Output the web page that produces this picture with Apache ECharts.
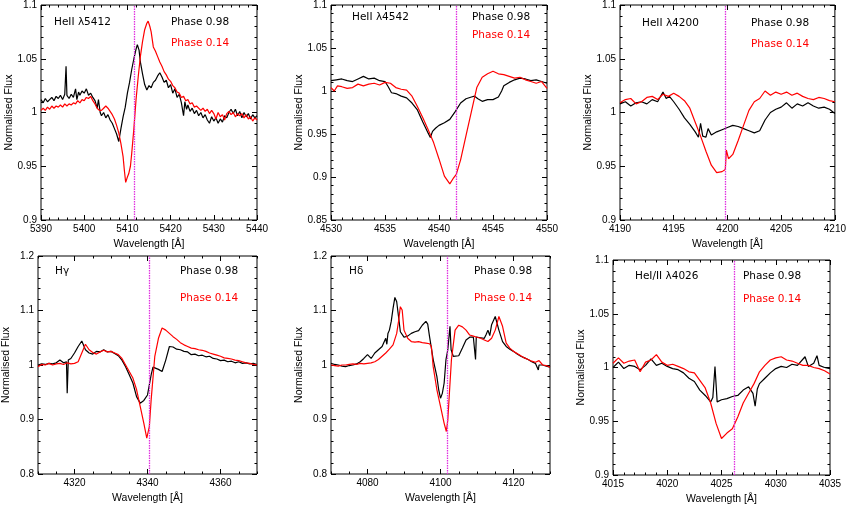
<!DOCTYPE html>
<html>
<head>
<meta charset="utf-8">
<script src="https://cdn.jsdelivr.net/npm/echarts@6/dist/echarts.min.js"></script>
<style>
html, body { margin: 0; background: #fff; }
#chart { width: 849px; height: 506px; }
</style>
</head>
<body>
<div id="chart"></div>
<script>
// rest wavelengths of the lines (dotted magenta markers)
var restWave = [5411.52, 4541.59, 4199.83, 4340.47, 4101.74, 4026.19];
var lineLabels = ['HeII \u03bb5412', 'HeII \u03bb4542', 'HeII \u03bb4200', 'H\u03b3', 'H\u03b4', 'HeI/II \u03bb4026'];
var phaseLabels = ['Phase 0.98', 'Phase 0.14'];

// tick labels
var xTicks5412 = [5390, 5400, 5410, 5420, 5430, 5440];
var xTicks4542 = [4530, 4535, 4540, 4545, 4550];
var xTicks4200 = [4190, 4195, 4200, 4205, 4210];
var xTicksHg = [4320, 4340, 4360];
var xTicksHd = [4080, 4100, 4120];
var xTicks4026 = [4015, 4020, 4025, 4030, 4035];
var yTicks090 = [0.9, 0.95, 1, 1.05, 1.1];
var yTicks085 = [0.85, 0.9, 0.95, 1, 1.05, 1.1];
var yTicks080 = [0.8, 0.9, 1, 1.1, 1.2];

// spectra [wavelength, normalised flux]
var heII5412Black = [[5390,1.012],[5390.5,1.009],[5391,1.013],[5391.5,1.010],[5392,1.012],[5392.5,1.014],[5393,1.011],[5393.5,1.015],[5394,1.013],[5394.5,1.016],[5395,1.012],[5395.5,1.017],[5395.8,1.043],[5396,1.016],[5396.5,1.013],[5397,1.017],[5397.5,1.014],[5398,1.022],[5398.3,1.012],[5398.7,1.019],[5399,1.016],[5399.5,1.020],[5400,1.018],[5400.5,1.022],[5401,1.016],[5401.5,1.018],[5402,1.014],[5402.5,1.011],[5403,1.004],[5403.3,1.012],[5403.7,1.000],[5404,0.997],[5404.5,1.000],[5405,0.995],[5405.5,0.998],[5406,0.993],[5406.5,0.990],[5407,0.985],[5407.5,0.980],[5408,0.973],[5408.5,0.985],[5409,0.996],[5409.5,1.005],[5410,1.018],[5410.5,1.028],[5411,1.040],[5411.5,1.050],[5412,1.059],[5412.3,1.063],[5412.7,1.058],[5413,1.047],[5413.5,1.036],[5414,1.026],[5414.5,1.021],[5415,1.025],[5415.5,1.023],[5416,1.028],[5416.5,1.030],[5417,1.034],[5417.5,1.037],[5418,1.033],[5418.5,1.028],[5419,1.030],[5419.5,1.023],[5420,1.026],[5420.5,1.018],[5421,1.022],[5421.5,1.014],[5422,1.017],[5422.5,1.009],[5423,0.997],[5423.3,1.010],[5423.7,1.003],[5424,1.007],[5424.5,1.001],[5425,1.004],[5425.5,0.999],[5426,1.002],[5426.5,0.997],[5427,1.000],[5427.5,0.995],[5428,0.998],[5428.5,0.993],[5429,0.990],[5429.5,0.996],[5430,0.992],[5430.5,0.995],[5431,0.990],[5431.5,0.994],[5432,0.991],[5432.5,0.997],[5433,0.995],[5433.5,1.000],[5434,1.003],[5434.5,0.999],[5435,1.003],[5435.5,0.997],[5436,1.001],[5436.5,0.995],[5437,1.000],[5437.5,0.996],[5438,0.999],[5438.5,0.994],[5439,0.998],[5439.5,0.995],[5440,0.997]];
var heII5412Red = [[5390,1.002],[5390.5,1.004],[5391,1.002],[5391.5,1.005],[5392,1.003],[5392.5,1.006],[5393,1.004],[5393.5,1.006],[5394,1.005],[5394.5,1.007],[5395,1.005],[5395.5,1.008],[5396,1.006],[5396.5,1.008],[5397,1.007],[5397.5,1.009],[5398,1.008],[5398.5,1.011],[5399,1.009],[5399.5,1.012],[5400,1.011],[5400.5,1.014],[5401,1.013],[5401.5,1.015],[5402,1.011],[5402.5,1.008],[5403,1.004],[5403.5,1.002],[5404,1.002],[5404.5,1.004],[5405,1.006],[5405.5,1.004],[5406,1.001],[5406.5,0.998],[5407,0.994],[5407.5,0.988],[5408,0.981],[5408.5,0.971],[5409,0.959],[5409.3,0.946],[5409.6,0.935],[5410,0.940],[5410.3,0.943],[5410.7,0.950],[5411,0.962],[5411.5,0.985],[5412,1.012],[5412.5,1.033],[5413,1.052],[5413.5,1.066],[5414,1.077],[5414.5,1.083],[5414.8,1.085],[5415.2,1.080],[5415.5,1.075],[5416,1.061],[5416.5,1.057],[5417,1.052],[5417.5,1.047],[5418,1.043],[5418.5,1.038],[5419,1.035],[5419.5,1.031],[5420,1.029],[5420.5,1.025],[5421,1.023],[5421.5,1.019],[5422,1.018],[5422.5,1.014],[5423,1.015],[5423.5,1.011],[5424,1.012],[5424.5,1.008],[5425,1.009],[5425.5,1.005],[5426,1.006],[5427,1.002],[5427.5,1.004],[5428,1.001],[5428.5,1.003],[5429,0.999],[5429.5,1.002],[5430,0.999],[5430.5,0.994],[5431,1.000],[5431.5,0.996],[5432,0.998],[5432.5,0.993],[5433,0.999],[5433.5,1.001],[5434,0.998],[5434.5,1.000],[5435,0.996],[5435.5,0.999],[5436,0.997],[5436.5,0.999],[5437,0.995],[5437.5,0.998],[5438,0.994],[5438.5,0.996],[5439,0.992],[5439.5,0.995],[5440,0.993]];

var heII4542Black = [[4530,1.012],[4530.5,1.013],[4531,1.014],[4531.5,1.012],[4532,1.011],[4532.5,1.014],[4533,1.017],[4533.5,1.014],[4534,1.015],[4534.5,1.012],[4535,1.011],[4535.3,1.005],[4535.6,0.998],[4536,0.997],[4536.5,0.994],[4537,0.992],[4537.5,0.986],[4538,0.978],[4538.5,0.964],[4539,0.951],[4539.2,0.946],[4539.4,0.953],[4539.7,0.957],[4540,0.960],[4540.5,0.963],[4541,0.967],[4541.5,0.976],[4542,0.986],[4542.5,0.991],[4543,0.993],[4543.3,0.994],[4543.6,0.991],[4544,0.988],[4544.5,0.990],[4545,0.990],[4545.5,0.993],[4545.8,1.000],[4546,1.006],[4546.5,1.010],[4547,1.013],[4547.5,1.015],[4548,1.014],[4548.5,1.012],[4549,1.013],[4549.5,1.011],[4550,1.009]];
var heII4542Red = [[4530,1.004],[4530.3,1.000],[4530.6,1.006],[4531,1.005],[4531.5,1.003],[4532,1.004],[4532.5,1.008],[4533,1.006],[4533.5,1.008],[4534,1.009],[4534.5,1.007],[4535,1.010],[4535.5,1.009],[4536,1.004],[4536.5,1.002],[4537,1.001],[4537.5,0.994],[4538,0.982],[4538.5,0.969],[4539,0.955],[4539.5,0.940],[4540,0.921],[4540.5,0.901],[4541,0.892],[4541.3,0.898],[4541.6,0.903],[4542,0.920],[4542.5,0.948],[4543,0.976],[4543.5,1.004],[4544,1.016],[4544.5,1.020],[4545,1.023],[4545.5,1.020],[4546,1.019],[4546.5,1.017],[4547,1.015],[4547.5,1.016],[4548,1.013],[4548.5,1.011],[4549,1.009],[4549.5,1.011],[4550,1.003]];

var heII4200Black = [[4190,1.008],[4190.5,1.010],[4191,1.006],[4191.5,1.009],[4192,1.010],[4192.5,1.008],[4193,1.012],[4193.5,1.010],[4194,1.019],[4194.3,1.013],[4194.6,1.015],[4195,1.010],[4195.5,1.003],[4196,0.995],[4196.5,0.989],[4197,0.982],[4197.3,0.977],[4197.5,0.990],[4197.7,0.978],[4198,0.977],[4198.2,0.985],[4198.5,0.979],[4199,0.982],[4199.5,0.984],[4200,0.986],[4200.5,0.988],[4201,0.987],[4201.5,0.985],[4202,0.983],[4202.5,0.981],[4203,0.983],[4203.5,0.993],[4204,1.000],[4204.5,1.003],[4205,1.005],[4205.5,1.009],[4206,1.004],[4206.5,1.008],[4207,1.006],[4207.5,1.009],[4208,1.006],[4208.5,1.004],[4209,1.005],[4209.5,1.003],[4210,0.999]];
var heII4200Red = [[4190,1.009],[4190.5,1.012],[4191,1.013],[4191.5,1.008],[4192,1.010],[4192.5,1.014],[4193,1.015],[4193.5,1.012],[4194,1.017],[4194.5,1.015],[4195,1.018],[4195.5,1.015],[4196,1.011],[4196.5,1.004],[4197,0.991],[4197.5,0.978],[4198,0.964],[4198.5,0.951],[4199,0.944],[4199.5,0.945],[4199.8,0.947],[4199.9,0.965],[4200.1,0.957],[4200.5,0.961],[4201,0.974],[4201.5,0.988],[4202,1.002],[4202.5,1.010],[4203,1.013],[4203.5,1.020],[4204,1.016],[4204.5,1.019],[4205,1.017],[4205.5,1.019],[4206,1.016],[4206.5,1.018],[4207,1.015],[4207.5,1.013],[4208,1.012],[4208.5,1.014],[4209,1.013],[4209.5,1.011],[4210,1.010]];

var hGammaBlack = [[4310,1.000],[4311,1.002],[4312,1.001],[4313,1.003],[4314,1.002],[4315,1.004],[4316,1.009],[4317,1.004],[4317.8,1.006],[4318,0.948],[4318.3,1.009],[4319,1.012],[4320,1.022],[4321,1.034],[4322,1.044],[4323,1.028],[4324,1.022],[4325,1.020],[4326,1.025],[4327,1.024],[4328,1.028],[4329,1.024],[4330,1.025],[4331,1.021],[4332,1.017],[4333,1.009],[4334,0.997],[4335,0.982],[4336,0.967],[4337,0.942],[4338,0.930],[4339,0.935],[4340,0.945],[4341,0.982],[4341.5,0.996],[4342,0.994],[4343,0.992],[4344,0.988],[4345,1.009],[4346,1.034],[4347,1.033],[4348,1.029],[4349,1.028],[4350,1.025],[4351,1.024],[4352,1.019],[4353,1.020],[4354,1.017],[4355,1.018],[4356,1.015],[4357,1.016],[4358,1.012],[4359,1.011],[4360,1.008],[4361,1.009],[4362,1.006],[4363,1.007],[4364,1.004],[4365,1.006],[4366,1.003],[4367,1.004],[4368,1.002],[4369,1.003],[4370,1.001]];
var hGammaRed = [[4310,0.997],[4311,1.001],[4312,1.000],[4313,1.003],[4314,1.000],[4315,1.002],[4316,1.003],[4317,1.001],[4318,1.004],[4319,1.002],[4320,1.003],[4321,1.006],[4322,1.022],[4323,1.038],[4324,1.028],[4325,1.023],[4326,1.020],[4327,1.024],[4328,1.027],[4329,1.024],[4330,1.025],[4331,1.022],[4332,1.019],[4333,1.012],[4334,1.000],[4335,0.988],[4336,0.976],[4337,0.955],[4338,0.924],[4339,0.893],[4339.8,0.866],[4340.5,0.887],[4341,0.936],[4342,1.016],[4343,1.049],[4344,1.068],[4345,1.064],[4346,1.058],[4347,1.052],[4348,1.047],[4349,1.041],[4350,1.037],[4351,1.034],[4352,1.031],[4353,1.030],[4354,1.028],[4355,1.027],[4356,1.025],[4357,1.022],[4358,1.020],[4359,1.018],[4360,1.016],[4361,1.013],[4362,1.012],[4363,1.011],[4364,1.009],[4365,1.008],[4366,1.006],[4367,1.004],[4368,1.003],[4369,1.001],[4370,1.000]];

var hDeltaBlack = [[4070,1.003],[4071,1.001],[4072,1.000],[4073,0.998],[4074,0.997],[4075,0.999],[4076,1.000],[4077,1.002],[4078,1.006],[4079,1.012],[4080,1.019],[4081,1.012],[4082,1.022],[4083,1.028],[4084,1.034],[4085,1.049],[4085.3,1.038],[4085.6,1.058],[4086,1.064],[4086.5,1.080],[4087,1.104],[4087.5,1.124],[4088,1.116],[4088.5,1.089],[4089,1.061],[4090,1.051],[4091,1.053],[4092,1.058],[4093,1.061],[4094,1.063],[4095,1.073],[4096,1.080],[4096.5,1.075],[4097,1.052],[4098,1.010],[4099,0.979],[4099.5,0.955],[4100,0.939],[4100.5,0.948],[4101,0.967],[4101.5,1.010],[4102,1.028],[4102.6,1.071],[4102.9,1.028],[4103.5,1.016],[4104,1.014],[4105,1.017],[4106,1.031],[4107,1.046],[4108,1.051],[4109,1.051],[4109.6,1.010],[4109.8,1.051],[4111,1.050],[4112,1.049],[4112.5,1.056],[4113,1.064],[4113.5,1.054],[4114,1.074],[4115,1.089],[4116,1.064],[4117,1.043],[4118,1.034],[4119,1.029],[4120,1.025],[4121,1.020],[4122,1.016],[4123,1.013],[4124,1.010],[4125,1.006],[4126,1.003],[4126.8,0.991],[4127,1.000],[4128,1.000],[4129,0.998],[4130,0.996]];
var hDeltaRed = [[4070,1.000],[4071,0.999],[4072,0.998],[4073,1.000],[4074,1.000],[4075,1.001],[4076,1.002],[4077,1.001],[4078,1.003],[4079,1.002],[4080,1.003],[4081,1.004],[4082,1.006],[4083,1.010],[4084,1.016],[4085,1.022],[4086,1.029],[4087,1.037],[4088,1.058],[4088.5,1.080],[4089,1.107],[4089.5,1.101],[4090,1.064],[4091,1.049],[4092,1.043],[4093,1.042],[4094,1.043],[4095,1.041],[4096,1.040],[4097,1.039],[4097.5,1.034],[4098,0.997],[4099,0.955],[4100,0.924],[4101,0.893],[4101.6,0.878],[4102,0.899],[4102.5,0.955],[4103,1.010],[4104,1.064],[4105,1.073],[4106,1.070],[4107,1.064],[4108,1.055],[4109,1.053],[4110,1.051],[4111,1.049],[4112,1.046],[4113,1.043],[4114,1.049],[4115,1.064],[4116,1.089],[4116.5,1.090],[4117,1.071],[4118,1.040],[4119,1.031],[4120,1.025],[4121,1.021],[4122,1.017],[4123,1.013],[4124,1.010],[4125,1.007],[4126,1.005],[4127,1.008],[4128,1.000],[4129,0.999],[4130,0.996]];

var he4026Black = [[4015,1.000],[4015.5,1.005],[4016,0.999],[4016.5,1.002],[4017,1.001],[4017.5,0.998],[4018,1.002],[4018.5,1.008],[4019,1.002],[4019.5,1.004],[4020,1.001],[4020.5,0.999],[4021,0.998],[4021.5,0.995],[4022,0.990],[4022.5,0.987],[4023,0.979],[4023.5,0.974],[4024,0.968],[4024.2,0.972],[4024.4,1.001],[4024.6,0.968],[4025,0.970],[4025.5,0.971],[4026,0.973],[4026.5,0.974],[4027,0.979],[4027.5,0.982],[4027.9,0.976],[4028.1,0.964],[4028.3,0.980],[4028.5,0.985],[4029,0.990],[4029.5,0.995],[4030,0.999],[4030.5,1.001],[4031,1.000],[4031.5,1.003],[4032,1.002],[4032.7,1.010],[4033,1.001],[4033.5,1.004],[4033.8,1.011],[4034,1.002],[4034.5,1.000],[4035,0.999]];
var he4026Red = [[4015,1.004],[4015.5,1.009],[4016,1.004],[4016.5,1.006],[4017,1.007],[4017.5,0.996],[4018,1.005],[4018.5,1.007],[4019,1.012],[4019.5,1.005],[4020,1.002],[4020.5,1.003],[4021,1.001],[4021.5,0.999],[4022,0.996],[4022.5,0.995],[4023,0.988],[4023.5,0.981],[4024,0.967],[4024.5,0.948],[4025,0.934],[4025.5,0.939],[4026,0.943],[4026.5,0.954],[4027,0.967],[4027.5,0.976],[4028,0.985],[4028.5,0.996],[4029,1.002],[4029.5,1.007],[4030,1.009],[4030.5,1.010],[4031,1.007],[4031.5,1.006],[4032,1.004],[4032.5,1.002],[4033,1.002],[4033.5,1.000],[4034,0.999],[4034.5,0.997],[4035,0.994]];

var FONT = 'Liberation Sans';
var NOTE_FONT = 'DejaVu Sans';

// panel layout: box = [left, top, width, height], txt = positions of the 3 labels
var panels = [
  { black: heII5412Black, red: heII5412Red, xMin: 5390, xMax: 5440, xStep: 2, xTicks: xTicks5412,
    yMin: 0.9, yMax: 1.1, yStep: 0.01, yTicks: yTicks090, box: [41, 5, 216, 215], txt: [[54, 17], [171, 17], [171, 38]] },
  { black: heII4542Black, red: heII4542Red, xMin: 4530, xMax: 4550, xStep: 1, xTicks: xTicks4542,
    yMin: 0.85, yMax: 1.1, yStep: 0.01, yTicks: yTicks085, box: [331, 5, 216, 215], txt: [[352, 12], [472, 12], [472, 30]] },
  { black: heII4200Black, red: heII4200Red, xMin: 4190, xMax: 4210, xStep: 1, xTicks: xTicks4200,
    yMin: 0.9, yMax: 1.1, yStep: 0.01, yTicks: yTicks090, box: [620, 5, 217, 215], txt: [[642, 18], [751, 18], [751, 39]] },
  { black: hGammaBlack, red: hGammaRed, xMin: 4310, xMax: 4370, xStep: 5, xTicks: xTicksHg,
    yMin: 0.8, yMax: 1.2, yStep: 0.02, yTicks: yTicks080, box: [36, 256, 221, 218], txt: [[55, 266], [180, 266], [180, 293]] },
  { black: hDeltaBlack, red: hDeltaRed, xMin: 4070, xMax: 4130, xStep: 5, xTicks: xTicksHd,
    yMin: 0.8, yMax: 1.2, yStep: 0.02, yTicks: yTicks080, box: [331, 256, 219, 218], txt: [[349, 266], [474, 266], [474, 293]] },
  { black: he4026Black, red: he4026Red, xMin: 4015, xMax: 4035, xStep: 1, xTicks: xTicks4026,
    yMin: 0.9, yMax: 1.1, yStep: 0.01, yTicks: yTicks090, box: [613, 260, 217, 215], txt: [[635, 271], [743, 271], [743, 294]] }
];

function makeAxis(gridIndex, pos, min, max, step, majors, withLabel) {
  var isY = pos === 'left' || pos === 'right';
  var a = {
    type: 'value', gridIndex: gridIndex, position: pos,
    min: min, max: max, interval: step,
    axisLine: { show: false },
    splitLine: { show: false },
    axisTick: { show: true, inside: true, length: majors ? 5 : 2.5, lineStyle: { color: '#000', width: 1 } },
    axisLabel: { show: false }
  };
  if (majors) a.axisTick.customValues = majors;
  if (withLabel) {
    a.axisLabel = {
      show: true, customValues: majors, color: '#000', fontFamily: FONT, fontSize: 10,
      margin: isY ? 4 : 4,
      formatter: function (v) { return String(v); }
    };
    a.nameLocation = 'middle';
    a.nameTextStyle = { color: '#000', fontFamily: FONT, fontSize: 10.5 };
    a.nameMoveOverlap = false;
    if (isY) { a.name = 'Normalised Flux'; a.nameGap = 26; }
    else { a.name = 'Wavelength [\u00c5]'; a.nameGap = 19; }
  }
  return a;
}

var grids = [], xAxes = [], yAxes = [], series = [], graphics = [];

panels.forEach(function (p, i) {
  grids.push({ left: p.box[0], top: p.box[1], width: p.box[2], height: p.box[3],
    show: true, borderColor: '#000', borderWidth: 1, backgroundColor: 'transparent' });
  var xi = xAxes.length, yi = yAxes.length;
  xAxes.push(makeAxis(i, 'bottom', p.xMin, p.xMax, p.xStep, null, false));
  xAxes.push(makeAxis(i, 'bottom', p.xMin, p.xMax, p.xStep, p.xTicks, true));
  xAxes.push(makeAxis(i, 'top', p.xMin, p.xMax, p.xStep, null, false));
  xAxes.push(makeAxis(i, 'top', p.xMin, p.xMax, p.xStep, p.xTicks, false));
  yAxes.push(makeAxis(i, 'left', p.yMin, p.yMax, p.yStep, null, false));
  yAxes.push(makeAxis(i, 'left', p.yMin, p.yMax, p.yStep, p.yTicks, true));
  yAxes.push(makeAxis(i, 'right', p.yMin, p.yMax, p.yStep, null, false));
  yAxes.push(makeAxis(i, 'right', p.yMin, p.yMax, p.yStep, p.yTicks, false));

  series.push({
    type: 'line', xAxisIndex: xi, yAxisIndex: yi, data: p.black,
    showSymbol: false, symbol: 'none', lineStyle: { color: '#000', width: 1.2 }, silent: true
  });
  series.push({
    type: 'line', xAxisIndex: xi, yAxisIndex: yi, data: p.red,
    showSymbol: false, symbol: 'none', lineStyle: { color: '#ff0000', width: 1.2 }, silent: true,
    markLine: {
      silent: true, symbol: 'none', label: { show: false },
      lineStyle: { color: '#e030e0', type: [1.5, 1], width: 1.3 },
      data: [{ xAxis: restWave[i] }]
    }
  });

  var texts = [lineLabels[i], phaseLabels[0], phaseLabels[1]];
  var colors = ['#000', '#000', '#ff0000'];
  texts.forEach(function (t, k) {
    graphics.push({
      type: 'text', left: p.txt[k][0], top: p.txt[k][1],
      style: { text: t, fill: colors[k], font: '10.5px "' + NOTE_FONT + '"' }
    });
  });
});

var chart = echarts.init(document.getElementById('chart'));
chart.setOption({
  animation: false,
  backgroundColor: '#fff',
  grid: grids,
  xAxis: xAxes,
  yAxis: yAxes,
  series: series,
  graphic: graphics
});
</script>
</body>
</html>
